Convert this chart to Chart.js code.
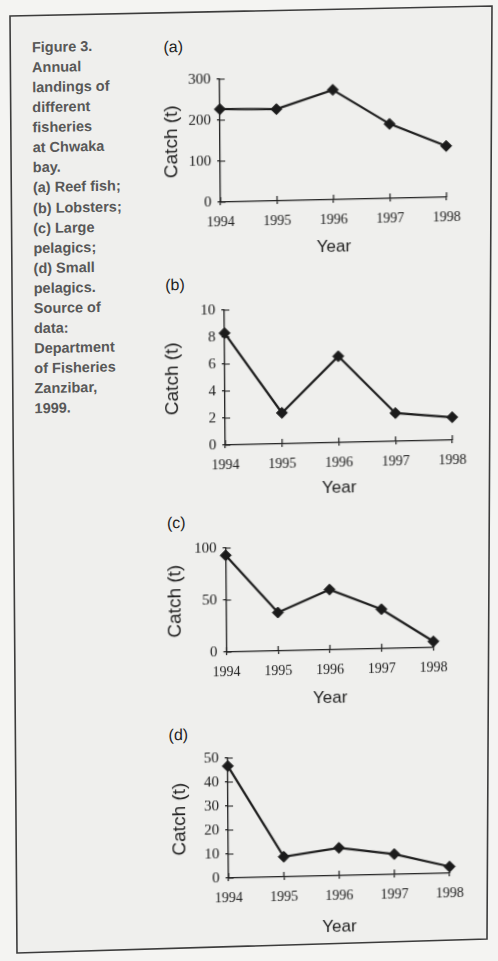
<!DOCTYPE html>
<html>
<head>
<meta charset="utf-8">
<script src="https://cdn.jsdelivr.net/npm/chart.js@4/dist/chart.umd.min.js"></script>
<style>
  html, body { margin: 0; padding: 0; background: #f4f4f2; width: 498px; height: 961px; overflow: hidden; }
  #frame { position: absolute; left: 0; top: 0; }
  #page { position: absolute; left: 0; top: 0; width: 498px; height: 961px;
          transform: matrix(1, -0.022, 0.0075, 1, 0, 0); transform-origin: 0 0; }
  #caption { position: absolute; left: 31.5px; top: 38px; font: bold 14.5px 'Liberation Sans', Arial, sans-serif;
             line-height: 20.06px; color: #585858; white-space: pre; }
  .tag { position: absolute; left: 163px; font: 16px 'Liberation Sans Narrow', 'Liberation Sans', Arial, sans-serif;
         color: #1e1e1e; line-height: 16px; }
  canvas { position: absolute; left: 0; }
</style>
</head>
<body>
<svg id="frame" width="498" height="961">
  <polygon points="10,16 492,6 487,939 17,953" fill="#efefed" stroke="#3c3c3c" stroke-width="1.6"/>
</svg>
<div id="page">
  <div id="caption">Figure 3.
Annual
landings of
different
fisheries
at Chwaka
bay.
(a) Reef fish;
(b) Lobsters;
(c) Large
pelagics;
(d) Small
pelagics.
Source of
data:
Department
of Fisheries
Zanzibar,
1999.</div>
  <div class="tag" style="top:43px">(a)</div>
  <div class="tag" style="top:281px">(b)</div>
  <div class="tag" style="top:519px">(c)</div>
  <div class="tag" style="top:731px">(d)</div>
  <canvas id="chartA" width="498" height="240" style="top:30px"></canvas>
  <canvas id="chartB" width="498" height="250" style="top:270px"></canvas>
  <canvas id="chartC" width="498" height="210" style="top:520px"></canvas>
  <canvas id="chartD" width="498" height="231" style="top:730px"></canvas>
</div>
<script>
const years = ['1994', '1995', '1996', '1997', '1998'];

const reefFish = [227, 224, 268, 182, 125];
const lobsters = [8.3, 2.3, 6.4, 2.1, 1.7];
const largePelagics = [93, 37, 58, 38, 6];
const smallPelagics = [46.7, 8.4, 11.6, 8.5, 2.8];

const reefTicks = [0, 100, 200, 300];
const lobsterTicks = [0, 2, 4, 6, 8, 10];
const largeTicks = [0, 50, 100];
const smallTicks = [0, 10, 20, 30, 40, 50];

const INK = '#1b1b1b';
const SANS = "'Liberation Sans', Arial, sans-serif";
const NARROW = "'Liberation Sans Narrow', 'Liberation Sans', Arial, sans-serif";
const SERIF = "'Liberation Serif', 'Times New Roman', serif";

// short tick marks on the inner side of both axes, so they cross the axis line
const innerTicks = {
    id: 'innerTicks',
    beforeDatasetsDraw(chart) {
        const {ctx, chartArea, scales: {x, y}} = chart;
        ctx.save();
        ctx.strokeStyle = INK;
        ctx.lineWidth = 1.2;
        ctx.beginPath();
        x.ticks.forEach((t, i) => {
            const px = x.getPixelForTick(i);
            ctx.moveTo(px, chartArea.bottom);
            ctx.lineTo(px, chartArea.bottom - 5);
        });
        y.ticks.forEach((t, i) => {
            const py = y.getPixelForTick(i);
            ctx.moveTo(chartArea.left, py);
            ctx.lineTo(chartArea.left + 5, py);
        });
        ctx.stroke();
        ctx.restore();
    }
};

function makePanel(id, values, tickValues, box) {
    const canvas = document.getElementById(id);
    const top = parseFloat(canvas.style.top);
    const h = canvas.height;
    const yTitleLine = 19 * 1.2;
    const xTitleLine = 17 * 1.2;
    const yLeft = box.titleX - yTitleLine / 2;
    const xBottom = box.yearY + xTitleLine / 2;

    return new Chart(canvas.getContext('2d'), {
        type: 'line',
        data: {
            labels: years,
            datasets: [{
                data: values,
                borderColor: INK,
                borderWidth: 2.2,
                tension: 0,
                pointStyle: 'rectRot',
                pointRadius: 5.5,
                pointBackgroundColor: INK,
                pointBorderColor: INK,
                pointBorderWidth: 1,
                clip: false
            }]
        },
        options: {
            responsive: false,
            animation: false,
            devicePixelRatio: 1,
            layout: {
                autoPadding: false,
                padding: {
                    left: yLeft,
                    right: 498 - box.right,
                    top: box.top - top,
                    bottom: h - (xBottom - top)
                }
            },
            plugins: { legend: { display: false }, tooltip: { enabled: false } },
            scales: {
                x: {
                    type: 'category',
                    offset: false,
                    grid: { drawOnChartArea: false, drawTicks: true, tickLength: 3, color: INK, lineWidth: 1.2 },
                    border: { display: true, color: INK, width: 1.3 },
                    ticks: { color: INK, font: { family: SERIF, size: 14 }, padding: 9, maxRotation: 0 },
                    title: { display: true, text: 'Year', color: INK, font: { family: NARROW, size: 17 },
                             padding: { top: 0, bottom: 0 } },
                    afterFit: s => { s.height = xBottom - box.bottom; }
                },
                y: {
                    min: tickValues[0],
                    max: tickValues[tickValues.length - 1],
                    grid: { drawOnChartArea: false, drawTicks: true, tickLength: 3, color: INK, lineWidth: 1.2 },
                    border: { display: true, color: INK, width: 1.3 },
                    ticks: { color: INK, font: { family: SERIF, size: 15 }, padding: 6 },
                    afterBuildTicks: s => { s.ticks = tickValues.map(v => ({ value: v })); },
                    title: { display: true, text: 'Catch (t)', color: INK, font: { family: SANS, size: 19 },
                             padding: { top: 0, bottom: 0 } },
                    afterFit: s => { s.width = box.left - yLeft; }
                }
            }
        },
        plugins: [innerTicks]
    });
}

makePanel('chartA', reefFish, reefTicks, { left: 219, right: 445, top: 84, bottom: 207, titleX: 171, yearY: 254 });
makePanel('chartB', lobsters, lobsterTicks, { left: 222, right: 449, top: 315, bottom: 450, titleX: 170, yearY: 495 });
makePanel('chartC', largePelagics, largeTicks, { left: 221.5, right: 428.5, top: 553, bottom: 657, titleX: 170.5, yearY: 705 });
makePanel('chartD', smallPelagics, smallTicks, { left: 222, right: 443, top: 763, bottom: 883, titleX: 174, yearY: 934.5 });
</script>
</body>
</html>
